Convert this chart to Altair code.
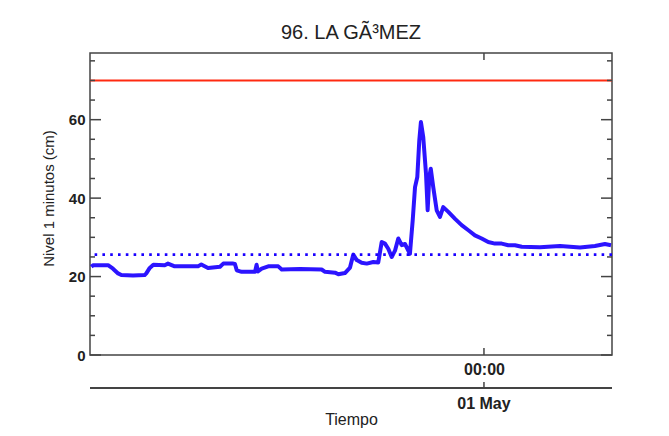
import altair as alt
import pandas as pd

# ---- text ----
title_text = "96. LA GÃ³MEZ"
y_title = "Nivel 1 minutos (cm)"
x_title = "Tiempo"

# ---- time axis ----
start_time = pd.Timestamp("2023-04-30 00:00")
end_time = pd.Timestamp("2023-05-01 07:48")
x_tick_times = ["2023-05-01 00:00"]

# ---- series (hours since start, level in cm) ----
hours = [0.08, 0.20, 0.69, 1.10, 1.40, 1.71, 1.91, 2.62, 3.33, 3.43, 3.64, 3.86,
         4.55, 4.75, 5.16, 5.48, 6.58, 6.78, 7.19, 7.92, 8.12, 8.73, 8.83, 8.94,
         9.24, 9.75, 10.05, 10.15, 10.23, 10.46, 10.86, 11.47, 11.68, 12.79, 14.11,
         14.32, 14.93, 15.13, 15.53, 15.84, 16.04, 16.25, 16.55, 16.86, 17.26, 17.56,
         17.77, 17.97, 18.17, 18.38, 18.58, 18.78, 18.99, 19.19, 19.49, 19.66, 19.80,
         19.94, 20.06, 20.16, 20.30, 20.47, 20.57, 20.67, 20.76, 20.91, 21.12, 21.32,
         21.52, 21.83, 22.24, 22.64, 23.05, 23.45, 23.86, 24.26, 24.67, 25.08, 25.48,
         25.89, 26.30, 27.41, 28.63, 29.85, 30.76, 31.37, 31.74]
level = [22.5, 22.9, 22.9, 22.9, 22.0, 20.8, 20.4, 20.3, 20.4, 20.8, 22.2, 23.0,
         22.9, 23.3, 22.6, 22.6, 22.6, 23.1, 22.2, 22.5, 23.3, 23.3, 23.2, 21.6,
         21.2, 21.2, 21.2, 23.0, 21.3, 22.0, 22.6, 22.6, 21.8, 21.9, 21.8,
         21.2, 21.0, 20.6, 20.9, 22.3, 25.6, 24.2, 23.5, 23.3, 23.7, 23.6,
         28.8, 28.4, 27.1, 25.0, 26.6, 29.7, 28.0, 28.3, 25.8, 34.4, 42.8,
         45.4, 54.7, 59.4, 55.6, 46.2, 36.9, 45.4, 47.5, 42.8, 36.9, 35.2,
         37.7, 36.5, 34.7, 33.1, 31.8, 30.5, 29.7, 28.8, 28.4, 28.4, 28.0,
         28.0, 27.6, 27.5, 27.8, 27.4, 27.8, 28.3, 28.0]

alarm_level = [70]
mean_level = [25.6]
y_major = [0, 20, 40, 60]
y_minor = [5, 10, 15, 25, 30, 35, 45, 50, 55, 65, 70, 75]
y_domain = [0, 77]

W, H = 522, 302
FONT = "Liberation Sans"
AX = "#444444"

series = pd.DataFrame({
    "t": [start_time + pd.to_timedelta(h, unit="h") for h in hours],
    "v": level,
})
xt = pd.DataFrame({"t": pd.to_datetime(x_tick_times)})

x_scale = alt.Scale(domain=[alt.DateTime(year=2023, month=4, date=30, hours=0),
                            alt.DateTime(year=2023, month=5, date=1, hours=7, minutes=48)])
y_scale = alt.Scale(domain=y_domain, nice=False)

line = alt.Chart(series).mark_line(color="#1a00ff", strokeWidth=4, opacity=0.92,
                                   strokeJoin="round", clip=True).encode(
    x=alt.X("t:T", scale=x_scale,
            axis=alt.Axis(values=[alt.DateTime(year=2023, month=5, date=1, hours=0)],
                          format="%H:%M", domain=False, ticks=False, grid=False,
                          labelFontSize=16, labelFont=FONT, labelColor="#222",
                          labelPadding=6, labelFontWeight="bold",
                          title=x_title, titleFont=FONT, titleFontSize=16,
                          titleFontWeight="normal", titleColor="#222",
                          titleY=64, titleBaseline="middle")),
    y=alt.Y("v:Q", scale=y_scale,
            axis=alt.Axis(values=y_major, domain=False, ticks=False, tickSize=0,
                          grid=False, labelFontSize=15, labelFont=FONT,
                          labelColor="#222", labelPadding=5, labelFontWeight="bold",
                          title=y_title, titleFont=FONT, titleFontSize=15,
                          titleFontWeight="normal", titleColor="#222",
                          titleX=-42, titleY=145, titleBaseline="middle",
                          titleAngle=270)),
)

red = alt.Chart(pd.DataFrame({"v": alarm_level})).mark_rule(
    color="#ff2a10", strokeWidth=2).encode(y="v:Q")
dotted = alt.Chart(pd.DataFrame({"v": mean_level})).mark_rule(
    color="#1a00ff", strokeWidth=2.6, strokeDash=[2.6, 5.2]).encode(y="v:Q")

ymaj = pd.DataFrame({"v": y_major})
ymin = pd.DataFrame({"v": y_minor})
tick_l_maj = alt.Chart(ymaj).mark_rule(color=AX, strokeWidth=1.5).encode(
    y="v:Q", x=alt.value(0), x2=alt.value(11))
tick_r_maj = alt.Chart(ymaj).mark_rule(color=AX, strokeWidth=1.5).encode(
    y="v:Q", x=alt.value(W - 11), x2=alt.value(W))
tick_l_min = alt.Chart(ymin).mark_rule(color=AX, strokeWidth=1.5).encode(
    y="v:Q", x=alt.value(0), x2=alt.value(5))
tick_r_min = alt.Chart(ymin).mark_rule(color=AX, strokeWidth=1.5).encode(
    y="v:Q", x=alt.value(W - 5), x2=alt.value(W))

tick_bottom = alt.Chart(xt).mark_rule(color=AX, strokeWidth=1.5).encode(
    x="t:T", y=alt.value(H - 7), y2=alt.value(H))
tick_top = alt.Chart(xt).mark_rule(color=AX, strokeWidth=1.5).encode(
    x="t:T", y=alt.value(0), y2=alt.value(7))

# second (date) axis below the plot
date_line = alt.Chart(xt).mark_rule(color=AX, strokeWidth=2, clip=False).encode(
    x=alt.value(0), x2=alt.value(W), y=alt.value(H + 33))
date_tick = alt.Chart(xt).mark_rule(color=AX, strokeWidth=1.5, clip=False).encode(
    x="t:T", y=alt.value(H + 27), y2=alt.value(H + 33))
date_text = alt.Chart(xt).mark_text(font=FONT, fontSize=16, fontWeight="bold",
                                    color="#222", baseline="middle",
                                    clip=False).encode(
    x="t:T", y=alt.value(H + 49), text=alt.Text("t:T", format="%d %b"))

chart = alt.layer(
    red, dotted, line,
    tick_l_maj, tick_r_maj, tick_l_min, tick_r_min, tick_bottom, tick_top,
    date_line, date_tick, date_text,
).properties(
    width=W, height=H,
    title=alt.TitleParams(title_text, font=FONT, fontSize=20, fontWeight="normal",
                          color="#222", anchor="middle", frame="group", offset=9),
    autosize=alt.AutoSizeParams(type="none"),
    padding={"left": 82, "top": 45, "right": 49, "bottom": 73},
).configure_view(stroke=AX, strokeWidth=1.5)

chart.save("out.html", embed_options={"renderer": "svg", "actions": False})
